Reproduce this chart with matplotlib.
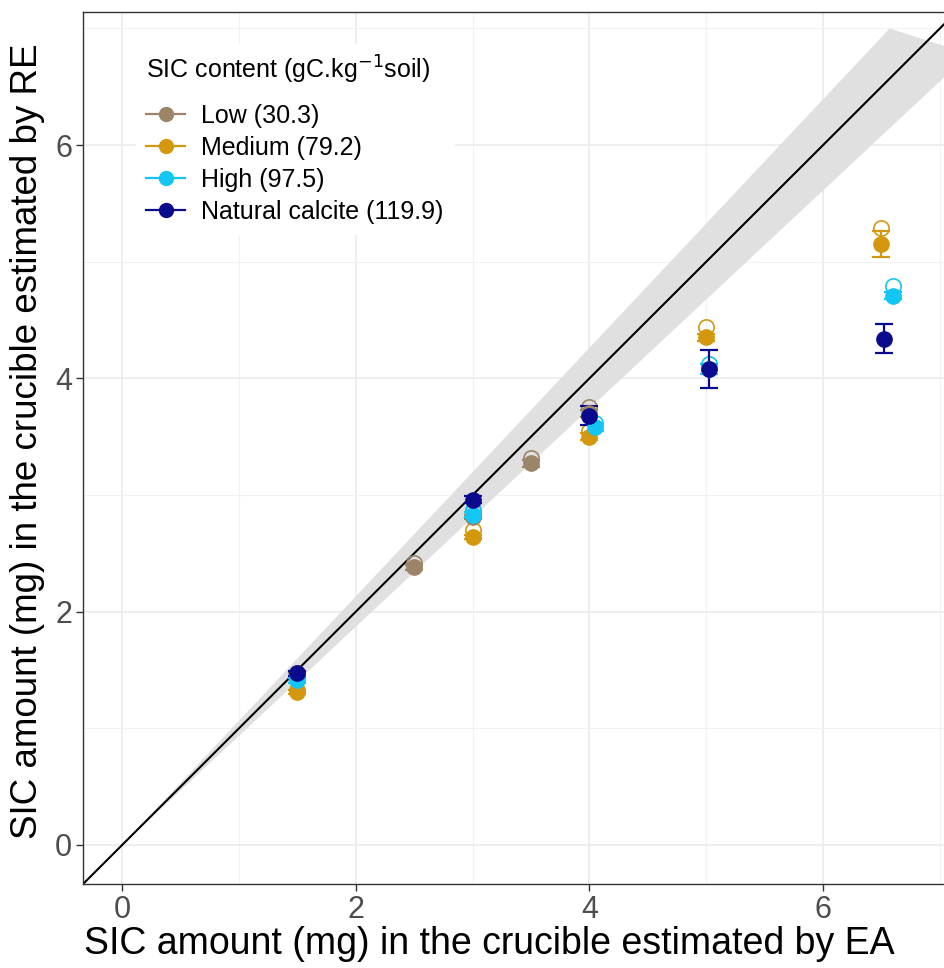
import numpy as np
import matplotlib
matplotlib.use("Agg")
import matplotlib.pyplot as plt
from matplotlib.lines import Line2D
from matplotlib.ticker import MultipleLocator

plt.rcParams['font.family'] = ['Liberation Sans', 'DejaVu Sans']

# ---- data ----
groups = ["Low (30.3)", "Medium (79.2)", "High (97.5)", "Natural calcite (119.9)"]
colours = ["#9C8468", "#D4980F", "#14C6F4", "#0A0A8C"]

low_x = [1.5, 2.5, 3.0, 3.5, 4.0]
low_y = [1.45, 2.38, 2.81, 3.27, 3.70]
low_err = [0.02, 0.02, 0.02, 0.03, 0.03]
low_open = [1.47, 2.42, 2.86, 3.32, 3.75]

med_x = [1.5, 3.0, 4.0, 5.0, 6.5]
med_y = [1.31, 2.64, 3.50, 4.35, 5.15]
med_err = [0.02, 0.02, 0.03, 0.03, 0.11]
med_open = [1.33, 2.70, 3.55, 4.44, 5.29]

high_x = [1.5, 3.0, 4.05, 5.02, 6.6]
high_y = [1.41, 2.83, 3.58, 4.08, 4.71]
high_err = [0.02, 0.02, 0.03, 0.04, 0.03]
high_open = [1.43, 2.87, 3.62, 4.12, 4.79]

nat_x = [1.5, 3.0, 4.0, 5.02, 6.52]
nat_y = [1.47, 2.96, 3.68, 4.08, 4.34]
nat_err = [0.02, 0.03, 0.08, 0.16, 0.125]

# 1:1 line and the grey band round it
band_x = [0.0, 6.57, 7.25]
band_y = [0.0, 7.0, 6.78]

fig = plt.figure(figsize=(9.45, 9.68), dpi=100)
ax = fig.add_axes([0.088, 0.087, 0.914, 0.9005])

ax.fill(band_x, band_y, color="#E0E0E0", lw=0, zorder=1)
ax.plot([-1, 8], [-1, 8], color="black", lw=1.5, zorder=2)

series = [
    (low_x, low_y, low_err, low_open),
    (med_x, med_y, med_err, med_open),
    (high_x, high_y, high_err, high_open),
    (nat_x, nat_y, nat_err, None),
]
for (x, y, e, yo), c in zip(series, colours):
    if yo is not None:
        ax.plot(x, yo, 'o', mfc="none", mec=c, ms=11, mew=1.2, zorder=3)
    ax.errorbar(x, y, yerr=e, fmt='o', color=c, ms=11, elinewidth=1.6,
                capsize=6.5, capthick=1.6, zorder=4)

ax.set_xlim(-0.335, 7.06)
ax.set_ylim(-0.334, 7.14)
ax.xaxis.set_major_locator(MultipleLocator(2))
ax.yaxis.set_major_locator(MultipleLocator(2))
ax.xaxis.set_minor_locator(MultipleLocator(1))
ax.yaxis.set_minor_locator(MultipleLocator(1))
ax.grid(which="major", color="#EBEBEB", lw=1.2, zorder=0)
ax.grid(which="minor", color="#F2F2F2", lw=0.8, zorder=0)
ax.set_axisbelow(True)
ax.tick_params(which="major", length=5, width=1, color="#333333",
               labelcolor="#4D4D4D", labelsize=22, pad=3)
ax.tick_params(which="minor", length=0)
for s in ax.spines.values():
    s.set_color("#333333")
    s.set_linewidth(1.0)

ax.set_xlabel("SIC amount (mg) in the crucible estimated by EA", fontsize=27)
ax.set_ylabel("SIC amount (mg) in the crucible estimated by RE", fontsize=26.5)
ax.xaxis.set_label_coords(0.47, -0.048)
ax.yaxis.set_label_coords(-0.044, 0.508)

handles = [Line2D([], [], color=c, marker='o', ms=10, lw=1.6) for c in colours]
leg = ax.legend(handles, groups, title=r"SIC content (gC.kg$^{-1}$soil)",
                loc="upper left", bbox_to_anchor=(0.047, 0.978), fontsize=18,
                title_fontsize=18, frameon=True, handlelength=1.55,
                handletextpad=0.65, labelspacing=0.32, borderpad=0.4)
leg._legend_box.align = "left"
leg._legend_box.sep = 13
leg.get_frame().set_edgecolor("white")
leg.get_frame().set_facecolor("white")
leg.get_frame().set_alpha(1)
leg.get_frame().set_boxstyle("square", pad=0)

fig.savefig("out.png", dpi=100)
